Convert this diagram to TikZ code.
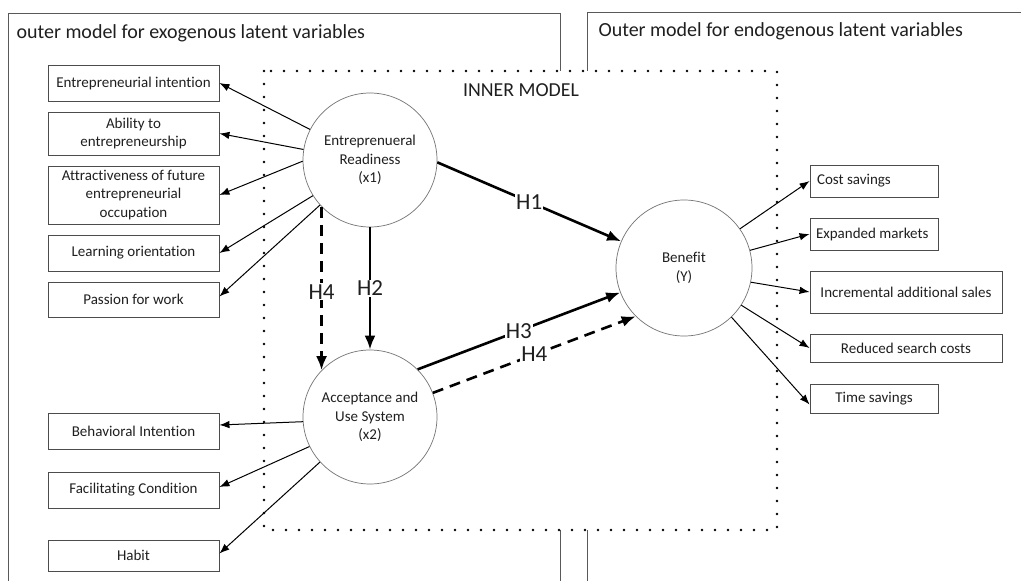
\documentclass[tikz,border=0pt]{standalone}
\usepackage{fontspec}
\setmainfont{Carlito}[Ligatures=NoCommon]
\usetikzlibrary{arrows.meta}
\begin{document}
\begin{tikzpicture}[x=1pt,y=-1pt,
  every node/.style={font=\fontsize{15}{18.5}\selectfont, text=black!88},
  ind/.style={draw=black!70, line width=0.9pt, rectangle, inner sep=0pt, align=center},
  lat/.style={draw=black!55, line width=0.7pt, circle, minimum size=134pt, inner sep=0pt, align=center},
  outerline/.style={draw=black!65, line width=1pt},
  dotbox/.style={draw=black, line width=2.6pt, line cap=round, dash pattern=on 0pt off 13pt},
  ldarr/.style={-{Latex[length=10pt,width=7.5pt]}, line width=1pt},
  hyp/.style={-{Latex[length=14pt,width=11pt]}, line width=2.6pt},
  hypd/.style={hyp, dash pattern=on 11pt off 7pt},
  hlab/.style={fill=white, inner sep=1pt, font=\fontsize{23}{25}\selectfont},
  title/.style={anchor=west, font=\fontsize{20}{22}\selectfont}
]
\useasboundingbox (0,0) rectangle (1021,581);
% outer frames
\draw[outerline] (8,581) -- (8,13) -- (560,13) -- (560,581);
\draw[outerline] (587,581) -- (587,12) -- (1021,12);
\node[title] (tl) at (13,33) {outer model for exogenous latent variables};
\node[title] (tr) at (595,31) {Outer model for endogenous latent variables};
% inner model
\path[fill=white] (264,71) rectangle (777,530);
\draw[dotbox] (264,71) rectangle (777,530);
\node[font=\fontsize{19.8}{22}\selectfont] (inner) at (521,90) {INNER MODEL};
% latent variables
\node[lat] (x1) at (370,160) {Entreprenueral\\Readiness\\(x1)};
\node[lat] (x2) at (370,417) {Acceptance and\\Use System\\(x2)};
\node[lat, minimum size=136pt] (y) at (684,268) {Benefit\\(Y)};
% exogenous indicators
\node[ind, minimum width=171pt, minimum height=36pt] (b1) at (133.5,83) {Entrepreneurial intention};
\node[ind, minimum width=171pt, minimum height=43pt] (b2) at (133.5,133.5) {Ability to\\entrepreneurship};
\node[ind, minimum width=171pt, minimum height=58pt] (b3) at (133.5,195) {Attractiveness of future\\entrepreneurial\\occupation};
\node[ind, minimum width=171pt, minimum height=36pt] (b4) at (133.5,253) {Learning orientation};
\node[ind, minimum width=171pt, minimum height=35pt] (b5) at (133.5,299.5) {Passion for work};
\node[ind, minimum width=171pt, minimum height=36pt] (b6) at (133.5,431) {Behavioral Intention};
\node[ind, minimum width=171pt, minimum height=36pt] (b7) at (133.5,490) {Facilitating Condition};
\node[ind, minimum width=171pt, minimum height=31pt] (b8) at (133.5,555.5) {Habit};
% endogenous indicators
\node[ind, minimum width=128pt, minimum height=32pt] (r1) at (874,181) {\makebox[114pt][l]{Cost savings}};
\node[ind, minimum width=128pt, minimum height=32pt] (r2) at (874,234) {\makebox[116pt][l]{Expanded markets}};
\node[ind, minimum width=192pt, minimum height=42pt] (r3) at (906,292) {Incremental additional sales};
\node[ind, minimum width=192pt, minimum height=28pt] (r4) at (906,348) {Reduced search costs};
\node[ind, minimum width=128pt, minimum height=29pt] (r5) at (874,398.5) {Time savings};
% outer arrows x1
\draw[ldarr] (x1.153) -- (b1.east);
\draw[ldarr] (x1.171) -- (b2.east);
\draw[ldarr] (x1.181) -- (b3.east);
\draw[ldarr] (x1.212) -- (b4.east);
\draw[ldarr] (x1.222) -- ([yshift=3pt]b5.east);
% outer arrows x2
\draw[ldarr] (x2.184) -- ([yshift=6pt]b6.east);
\draw[ldarr] (x2.206) -- ([yshift=3pt]b7.east);
\draw[ldarr] (x2.222) -- ([yshift=2pt]b8.east);
% outer arrows y
\draw[ldarr] (y.35) -- (r1.west);
\draw[ldarr] (y.15) -- (r2.west);
\draw[ldarr] (y.348) -- (r3.west);
\draw[ldarr] (y.327) -- (r4.west);
\draw[ldarr] (y.314) -- ([yshift=-6pt]r5.west);
% hypotheses
\draw[hyp] (x1.358) -- node[hlab] (h1) {H1} (y.157);
\draw[hyp] (x1.south) -- node[hlab] (h2) {H2} (x2.north);
\draw[hypd] (x1.224) -- node[hlab, pos=0.52] (h4a) {H4} (x2.136);
\draw[hyp] (x2.45) -- node[hlab] (h3) {H3} (y.201);
\draw[hypd] (x2.21) -- node[hlab] (h4b) {H4} (y.225);
\end{tikzpicture}
\end{document}
